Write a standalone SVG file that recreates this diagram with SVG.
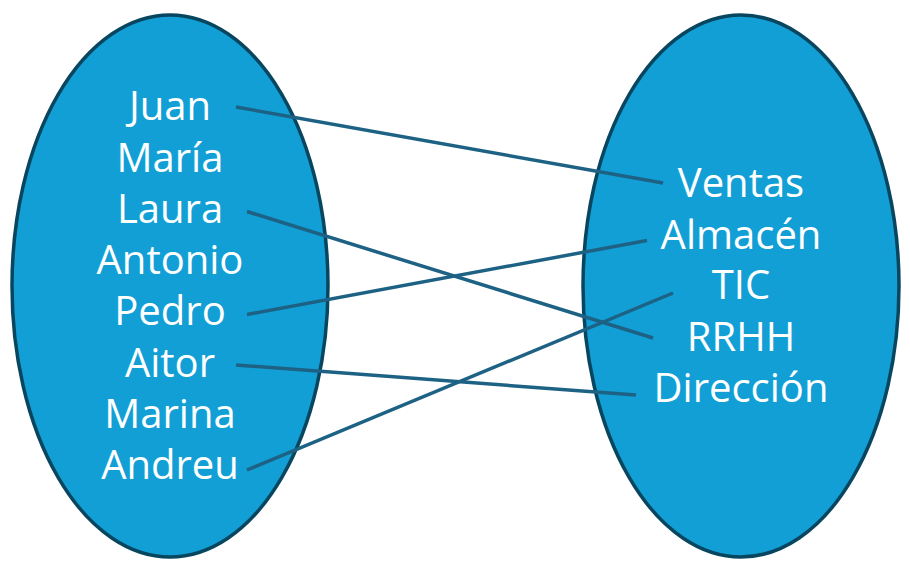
<svg xmlns="http://www.w3.org/2000/svg" width="910" height="574" viewBox="0 0 910 574">
<style>
.set{fill:#129fd6;stroke:#08465f;stroke-width:3.5}
.lbl{font-family:"Open Sans","Liberation Sans",sans-serif;font-size:40px;font-weight:500;fill:#ffffff;text-anchor:middle}
.con{stroke:#1d6284;stroke-width:3.5;fill:none;stroke-linecap:butt}
</style>
<rect width="910" height="574" fill="#ffffff"/>
<g id="empleados">
<ellipse class="set" cx="170" cy="286" rx="158" ry="271"/>
<text class="lbl" x="170" y="120">Juan</text>
<text class="lbl" x="170" y="171.5">María</text>
<text class="lbl" x="170" y="222.5">Laura</text>
<text class="lbl" x="170" y="274">Antonio</text>
<text class="lbl" x="170" y="325">Pedro</text>
<text class="lbl" x="170" y="376.5">Aitor</text>
<text class="lbl" x="170" y="428">Marina</text>
<text class="lbl" x="170" y="479">Andreu</text>
</g>
<g id="departamentos">
<ellipse class="set" cx="741" cy="286" rx="158" ry="271"/>
<text class="lbl" x="741" y="197">Ventas</text>
<text class="lbl" x="741" y="249">Almacén</text>
<text class="lbl" x="741" y="299">TIC</text>
<text class="lbl" x="741" y="351">RRHH</text>
<text class="lbl" x="741" y="402">Dirección</text>
</g>
<g id="connectors">
<line class="con" x1="236" y1="107" x2="663" y2="183"/>
<line class="con" x1="247" y1="211.5" x2="653" y2="338"/>
<line class="con" x1="247" y1="314.5" x2="647" y2="240.5"/>
<line class="con" x1="236" y1="365" x2="636" y2="395"/>
<line class="con" x1="247" y1="470" x2="673" y2="293"/>
</g>
</svg>
